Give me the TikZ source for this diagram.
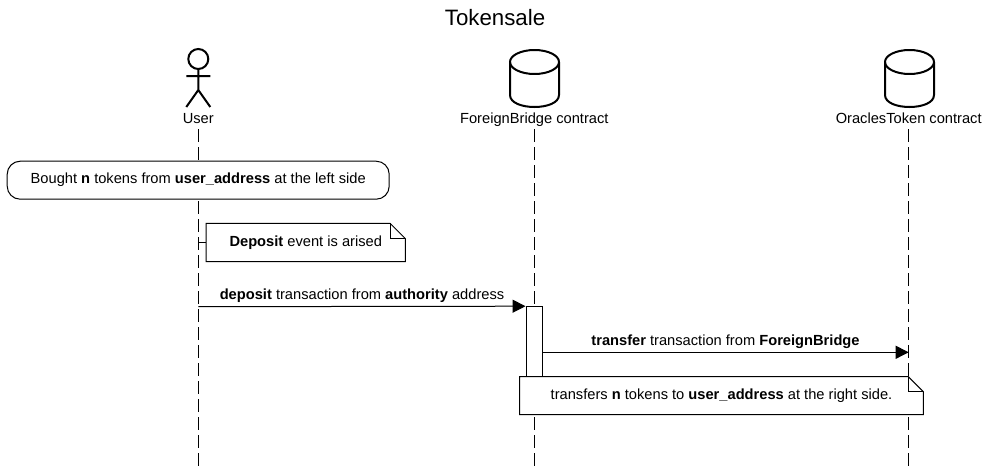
\documentclass[tikz,border=0pt]{standalone}
\usepackage{fontspec}
\setmainfont{Liberation Sans}
\usetikzlibrary{arrows.meta}
\usetikzlibrary{calc}

\def\px{0.75pt}
\tikzset{
  caption/.style={font=\fontsize{11}{13}\selectfont, inner sep=0pt},
  headlabel/.style={caption, text height=8pt, text depth=0pt, minimum height=21*\px},
  lifeline/.style={line width=\px, dash pattern=on 12.7*\px off 5.3*\px},
  message/.style={line width=\px, -{Triangle[length=13*\px, width=13*\px]}},
  notebox/.style={caption, fill=white, minimum height=37.5*\px},
  statebox/.style={caption, draw, fill=white, line width=\px, rounded corners=13*\px, minimum width=382*\px, minimum height=38*\px},
  activebox/.style={draw, fill=white, line width=\px, inner sep=0pt, minimum width=16.5*\px, minimum height=108*\px},
  actoricon/.pic={
    \draw[line width=1.5pt] (0,10) circle [radius=10];
    \draw[line width=1.5pt] (0,20) -- (0,41) (-12,27) -- (12,27) (-12,58) -- (0,41) -- (12,58);
  },
  dbicon/.pic={
    \draw[line width=1.5pt, line join=round] (0,12) ellipse [x radius=24.5, y radius=12];
    \draw[line width=1.5pt] (-24.5,12) -- (-24.5,45) .. controls (-24.5,61) and (24.5,61) .. (24.5,45) -- (24.5,12);
  }
}
\newcommand{\notefold}[1]{
  \draw[line width=\px, line join=miter] (#1.north west) -- ($(#1.north east)+(-15,0)$) -- ($(#1.north east)+(0,15)$) -- (#1.south east) -- (#1.south west) -- cycle;
  \draw[line width=\px] ($(#1.north east)+(-15,0)$) -- ($(#1.north east)+(-15,15)$) -- ($(#1.north east)+(0,15)$);
}

\begin{document}
\begin{tikzpicture}[x=0.75pt, y=-0.75pt]
  \useasboundingbox (0,0) rectangle (989,471);

  % Title
  \node[caption, font=\fontsize{16.7}{20}\selectfont] (title) at (495,18) {Tokensale};

  % Heads
  \pic at (198.3,49) {actoricon};
  \pic at (534.5,50) {dbicon};
  \pic at (909.5,50) {dbicon};
  \node[headlabel] (user) at (198.3,118.5) {User};
  \node[headlabel] (bridge) at (534.3,118.5) {ForeignBridge contract};
  \node[headlabel] (token) at (908.7,118.5) {OraclesToken contract};

  % Lifelines
  \coordinate (userend) at (198.3,466.5);
  \coordinate (bridgeend) at (534.3,466.5);
  \coordinate (tokenend) at (908.7,466.5);
  \draw[lifeline] (user.south) -- (userend);
  \draw[lifeline] (bridge.south) -- (bridgeend);
  \draw[lifeline] (token.south) -- (tokenend);

  % Boxes
  \node[statebox] (bought) at (198.2,180.2) {Bought \textbf{n} tokens from \textbf{user\_address} at the left side};
  \node[notebox, minimum width=198.5*\px] (arised) at (305.75,242.5) {\textbf{Deposit} event is arised};
  \notefold{arised}
  \coordinate (arisedtick) at (198.3,242.5);
  \draw[line width=\px] (arisedtick) -- (arised.west);
  \node[activebox] (active) at (534.3,360.7) {};

  % Messages
  \coordinate (depositstart) at (198.3,306.7);
  \coordinate (transferstart) at (542.5,352.3);
  \coordinate (transferend) at (908.7,352.3);
  \draw[message] (depositstart) -- (active.north west);
  \draw[message] (transferstart) -- (transferend);
  \node[caption] (depositlabel) at (362,296) {\textbf{deposit} transaction from \textbf{authority} address};
  \node[caption] (transferlabel) at (725.5,342) {\textbf{transfer} transaction from \textbf{ForeignBridge}};

  % Last note
  \node[notebox, minimum width=403*\px] (transfers) at (721.5,395.7) {transfers \textbf{n} tokens to \textbf{user\_address} at the right side.};
  \notefold{transfers}
\end{tikzpicture}
\end{document}
